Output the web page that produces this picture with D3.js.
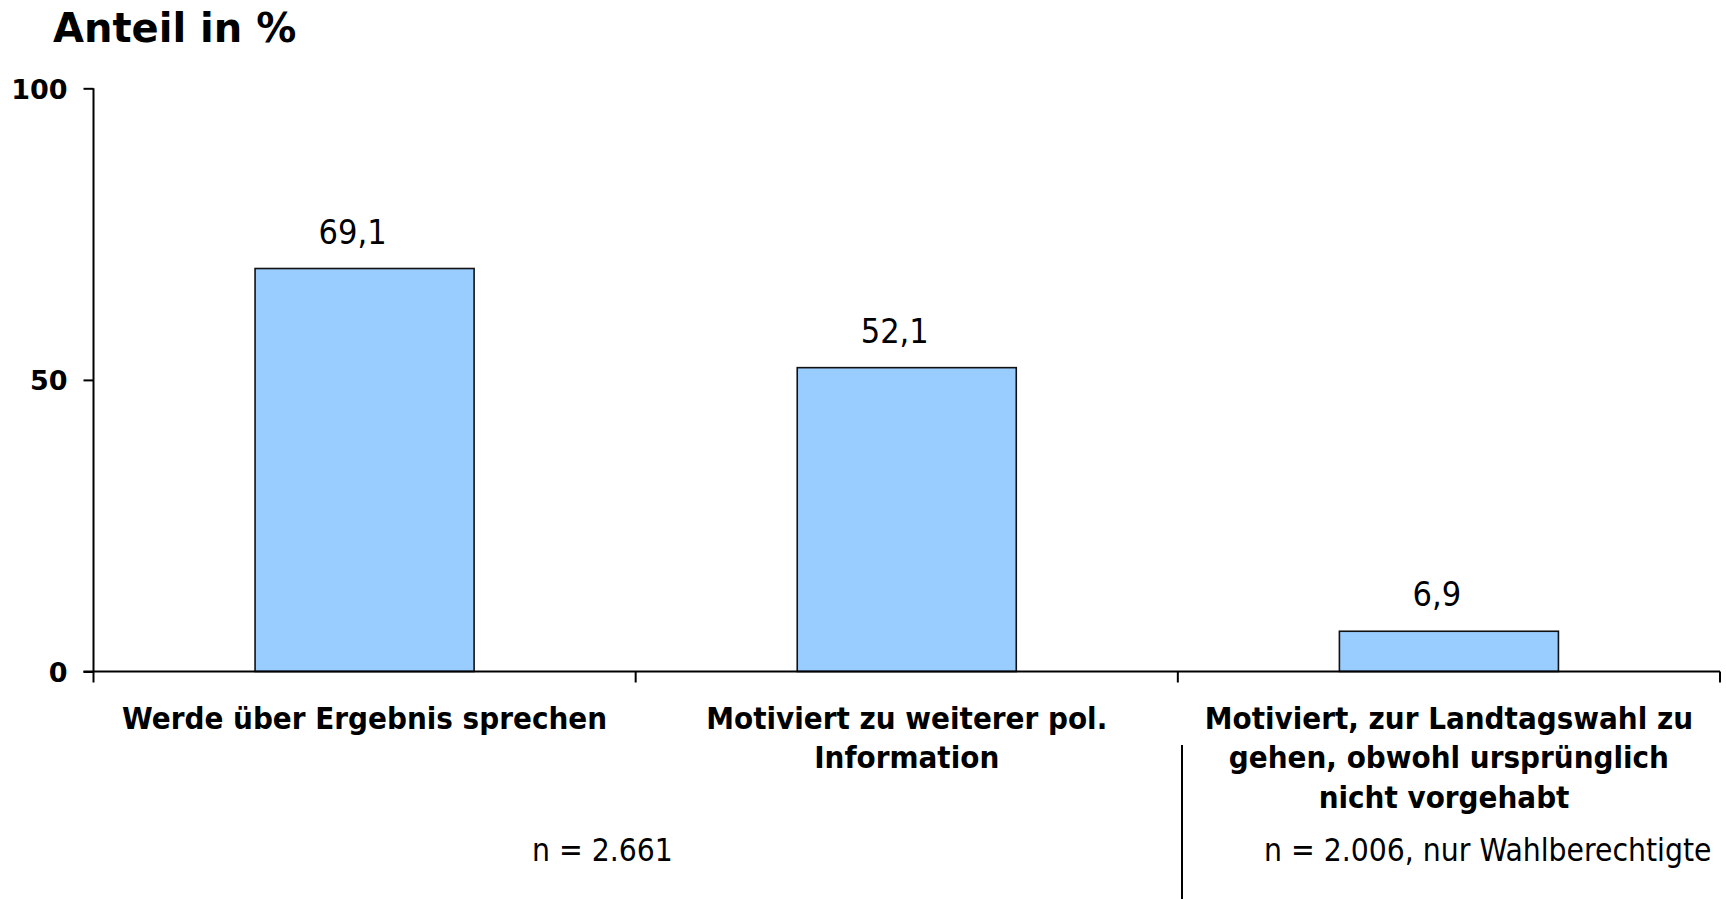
<!DOCTYPE html>
<html lang="de">
<head>
<meta charset="utf-8">
<title>Anteil in %</title>
<script src="https://cdn.jsdelivr.net/npm/d3@7"></script>
<style>
  html, body { margin: 0; padding: 0; background: #fff; }
  svg { display: block; }
  .cond { font-family: "DejaVu Sans Condensed", "DejaVu Sans", sans-serif; font-stretch: condensed; }
  .wide { font-family: "DejaVu Sans", sans-serif; font-weight: bold; }
</style>
</head>
<body>
<svg id="chart" width="1726" height="899"></svg>
<script>
// Categories (wrapped label lines), values and axis ticks
const categories = ["sprechen", "information", "landtagswahl"];
const categoryLines = [
  ["Werde über Ergebnis sprechen"],
  ["Motiviert zu weiterer pol.", "Information"],
  ["Motiviert, zur Landtagswahl zu", "gehen, obwohl ursprünglich", "nicht vorgehabt "]
];
const values = [69.1, 52.1, 6.9];
const yTicks = [0, 50, 100];
const notes = ["n = 2.661", "n = 2.006, nur Wahlberechtigte"];

const svg = d3.select("#chart");
const W = 1726, H = 899;
const plotLeft = 93.5, plotRight = 1720, plotTop = 88.3, plotBottom = 671.5;

const y = d3.scaleLinear().domain([0, 100]).range([plotBottom, plotTop]);
const xGroup = d3.scaleBand().domain(categories).range([plotLeft, plotRight]).padding(0);
const x = d3.scaleBand().domain(categories).range([plotLeft, plotRight])
  .paddingInner(0.596).paddingOuter(0.298);

const fmt = v => d3.format(".1f")(v).replace(".", ",");

// Title
svg.append("text").attr("class", "wide")
  .attr("x", 53).attr("y", 41.7)
  .attr("font-size", 40).attr("fill", "#000")
  .text("Anteil in %");

// Y axis
const yAxis = d3.axisLeft(y).tickValues(yTicks).tickSize(10).tickPadding(16)
  .tickFormat(d3.format("d"));
const gy = svg.append("g").attr("transform", `translate(${plotLeft},0)`).call(yAxis);
gy.select(".domain").attr("stroke", "#000").attr("stroke-width", 2)
  .attr("d", `M0,${plotTop}V${plotBottom}`);
gy.selectAll(".tick line").attr("stroke", "#000").attr("stroke-width", 2);
gy.selectAll(".tick text").attr("class", "wide")
  .attr("font-size", 27).attr("fill", "#000")
  .attr("dy", "0.36em");

// Bars
svg.append("g").selectAll("rect").data(values).join("rect")
  .attr("x", (d, i) => x(categories[i]))
  .attr("y", d => y(d))
  .attr("width", x.bandwidth())
  .attr("height", d => y(0) - y(d))
  .attr("fill", "#99CCFF")
  .attr("stroke", "#111")
  .attr("stroke-width", 1.6);

// Value labels
svg.append("g").selectAll("text").data(values).join("text")
  .attr("class", "cond")
  .attr("x", (d, i) => x(categories[i]) + x.bandwidth() / 2 - 12)
  .attr("y", d => y(d) - 25)
  .attr("text-anchor", "middle")
  .attr("font-size", 34).attr("fill", "#000")
  .text(d => fmt(d));

// X axis line with group separators
const gx = svg.append("g");
gx.append("line")
  .attr("x1", plotLeft - 10).attr("x2", plotRight)
  .attr("y1", y(0)).attr("y2", y(0))
  .attr("stroke", "#000").attr("stroke-width", 2);
const bounds = categories.map(c => xGroup(c)).concat([xGroup.range()[1]]);
gx.selectAll("line.sep").data(bounds).join("line").attr("class", "sep")
  .attr("x1", d => d).attr("x2", d => d)
  .attr("y1", y(0)).attr("y2", y(0) + 11)
  .attr("stroke", "#000").attr("stroke-width", 2);

// Category labels
const labels = svg.append("g").selectAll("text").data(categoryLines).join("text")
  .attr("class", "cond")
  .attr("font-size", 31).attr("font-weight", "bold").attr("fill", "#000")
  .attr("text-anchor", "middle")
  .style("white-space", "pre");
labels.each(function (lines, i) {
  const cx = xGroup(categories[i]) + xGroup.bandwidth() / 2;
  d3.select(this).selectAll("tspan").data(lines).join("tspan")
    .attr("x", cx)
    .attr("y", (d, j) => 729 + j * 39.3)
    .text(d => d);
});

// Sample size notes and divider
svg.append("text").attr("class", "cond")
  .attr("x", 532).attr("y", 861)
  .attr("font-size", 31.5).attr("fill", "#000")
  .text(notes[0]);
svg.append("text").attr("class", "cond")
  .attr("x", 1264).attr("y", 861)
  .attr("font-size", 31.5).attr("fill", "#000")
  .text(notes[1]);
svg.append("line")
  .attr("x1", 1182).attr("x2", 1182)
  .attr("y1", 745).attr("y2", H)
  .attr("stroke", "#000").attr("stroke-width", 2);
</script>
</body>
</html>
